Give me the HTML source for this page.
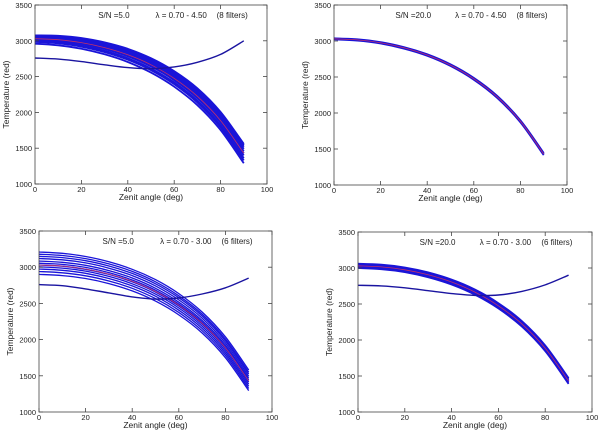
<!DOCTYPE html>
<html><head><meta charset="utf-8"><style>
html,body{margin:0;padding:0;background:#fff;}
svg{display:block;font-family:"Liberation Sans",sans-serif;}
</style></head><body>
<svg id="fig" width="600" height="432" viewBox="0 0 600 432" xmlns="http://www.w3.org/2000/svg"></svg>
<script>
const xTicks=[0,20,40,60,80,100];
const yTicks=[1000,1500,2000,2500,3000,3500];
const zenith=[0,10,20,30,40,50,60,70,80,90];
const central=[3030,3015,2975,2905,2805,2665,2475,2225,1885,1430];
const outTL=[2760,2745,2710,2665,2625,2610,2635,2700,2810,3000];
const outBL=[2760,2745,2700,2645,2590,2560,2575,2630,2715,2850];
const outBR=[2760,2752,2725,2685,2645,2620,2625,2675,2765,2900];
// per-curve offsets [at 0 deg, at 90 deg]
const offTL=[[45,130],[35,110],[25,90],[15,60],[5,30],[-5,0],[-15,-30],[-30,-70],[-45,-100],[-70,-140]];
const offBL=[[180,150],[150,120],[120,95],[90,65],[55,35],[25,10],[0,-15],[-25,-45],[-55,-75],[-90,-105],[-130,-135]];
const offTR=[[8,15],[3,5],[-3,-5],[-8,-15]];
const offBR=[[30,40],[15,20],[0,0],[-15,-20],[-30,-40]];
const widths=[1.8,1.8,1.3,1.8];
const titles=[["S/N =5.0","λ = 0.70 - 4.50","(8 filters)"],["S/N =20.0","λ = 0.70 - 4.50","(8 filters)"],["S/N =5.0","λ = 0.70 - 3.00","(6 filters)"],["S/N =20.0","λ = 0.70 - 3.00","(6 filters)"]];
const panels=[
 {name:"panel-top-left",x0:35,x1:267,y0:5,y1:184,off:offTL,out:outTL,t:titles[0],w:widths[0]},
 {name:"panel-top-right",x0:334,x1:567,y0:5,y1:185,off:offTR,out:null,t:titles[1],w:widths[1]},
 {name:"panel-bottom-left",x0:39,x1:272,y0:231,y1:412,off:offBL,out:outBL,t:titles[2],w:widths[2]},
 {name:"panel-bottom-right",x0:358,x1:592,y0:232,y1:412,off:offBR,out:outBR,t:titles[3],w:widths[3]}];
const NS="http://www.w3.org/2000/svg";
const svg=document.getElementById('fig');
function mk(tag,attrs,parent){const e=document.createElementNS(NS,tag);for(const k in attrs)e.setAttribute(k,attrs[k]);parent.appendChild(e);return e;}
function smooth(pts){
 let d='M'+pts[0][0].toFixed(1)+' '+pts[0][1].toFixed(1);
 for(let i=0;i<pts.length-1;i++){
  const p0=pts[Math.max(0,i-1)],p1=pts[i],p2=pts[i+1],p3=pts[Math.min(pts.length-1,i+2)];
  const c1=[p1[0]+(p2[0]-p0[0])/6,p1[1]+(p2[1]-p0[1])/6];
  const c2=[p2[0]-(p3[0]-p1[0])/6,p2[1]-(p3[1]-p1[1])/6];
  d+=` C${c1[0].toFixed(1)} ${c1[1].toFixed(1)} ${c2[0].toFixed(1)} ${c2[1].toFixed(1)} ${p2[0].toFixed(1)} ${p2[1].toFixed(1)}`;
 }
 return d;
}
panels.forEach(p=>{
 const g=mk('g',{},svg);
 
 
 const sx=v=>p.x0+(v-0)/100*(p.x1-p.x0);
 const sy=v=>p.y1-(v-1000)/2500*(p.y1-p.y0);
 const path=arr=>smooth(arr.map((v,i)=>[sx(zenith[i]),sy(v)]));
 p.off.forEach(o=>{
  const vals=central.map((c,i)=>c+o[0]+(o[1]-o[0])*zenith[i]/90);
  const c=mk('path',{d:path(vals),fill:'none',stroke:'#1a14d8','stroke-width':p.w},g);
  
  
 });
 const r=mk('path',{d:path(central),fill:'none',stroke:'#c0306a','stroke-width':0.8},g);
 
 
 if(p.out){
  const q=mk('path',{d:path(p.out),fill:'none',stroke:'#1a14a0','stroke-width':1.4},g);
  
  
 }
 const f=mk('rect',{x:p.x0,y:p.y0,width:p.x1-p.x0,height:p.y1-p.y0,fill:'none',stroke:'#444','stroke-width':0.8},g);
 
 
 xTicks.forEach(t=>{
  mk('line',{x1:sx(t),x2:sx(t),y1:p.y1,y2:p.y1-4,stroke:'#444','stroke-width':0.8},g);
  mk('line',{x1:sx(t),x2:sx(t),y1:p.y0,y2:p.y0+4,stroke:'#444','stroke-width':0.8},g);
  const l=mk('text',{x:sx(t),y:p.y1+8,'font-size':7.5,'text-anchor':'middle',fill:'#222'},g);l.textContent=t;
  
  
 });
 yTicks.forEach(t=>{
  mk('line',{x1:p.x0,x2:p.x0+4,y1:sy(t),y2:sy(t),stroke:'#444','stroke-width':0.8},g);
  mk('line',{x1:p.x1,x2:p.x1-4,y1:sy(t),y2:sy(t),stroke:'#444','stroke-width':0.8},g);
  const l=mk('text',{x:p.x0-3,y:sy(t)+3,'font-size':7.5,'text-anchor':'end',fill:'#222'},g);l.textContent=t;
  
  
 });
 const xt=mk('text',{x:(p.x0+p.x1)/2,y:p.y1+16,'font-size':8.5,'text-anchor':'middle',fill:'#222'},g);xt.textContent='Zenit angle (deg)';
 
 
 const cy=(p.y0+p.y1)/2,cx=p.x0-26;
 const yt=mk('text',{x:cx,y:cy,'font-size':8.5,'text-anchor':'middle',fill:'#222',transform:`rotate(-90 ${cx} ${cy})`},g);yt.textContent='Temperature (red)';
 
 
 const w=p.x1-p.x0;
 [[0.34,p.t[0]],[0.63,p.t[1]],[0.85,p.t[2]]].forEach(a=>{
  const tt=mk('text',{x:p.x0+w*a[0],y:p.y0+13,'font-size':8,'text-anchor':'middle',fill:'#222'},g);tt.textContent=a[1];
  
  
 });
});
</script>
</body></html>
